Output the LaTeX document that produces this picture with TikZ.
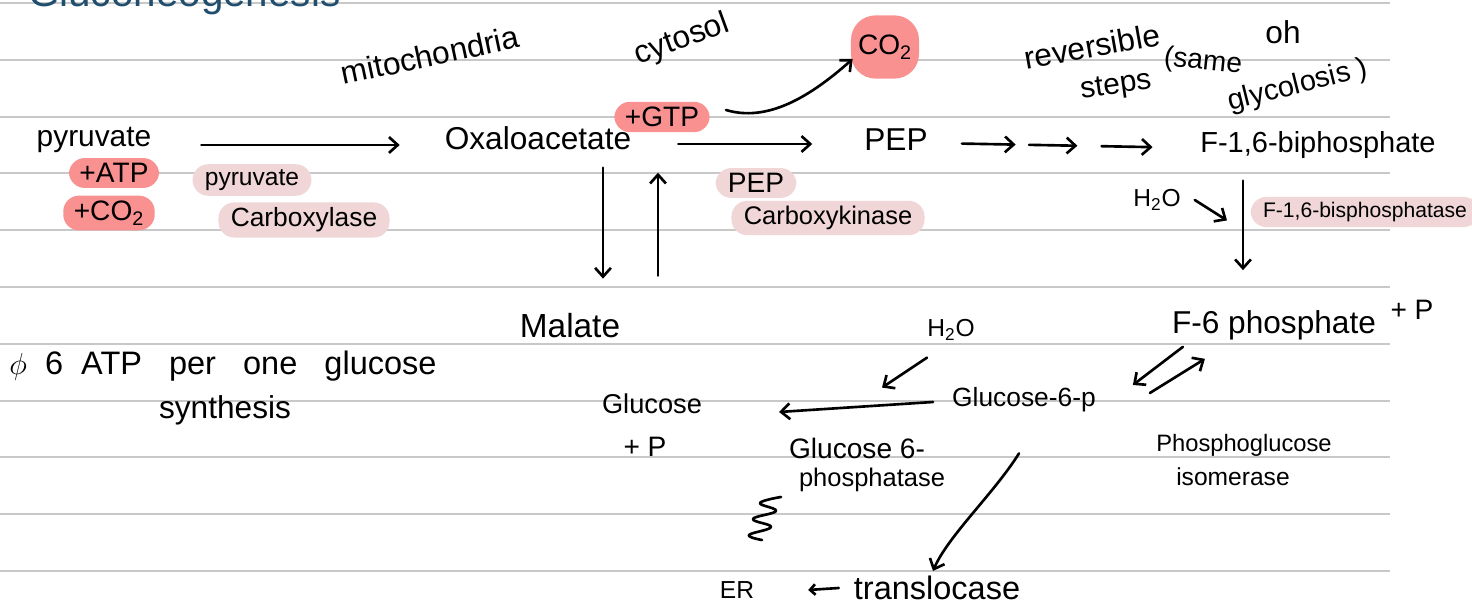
\documentclass[tikz,border=0pt]{standalone}
\usepackage{fontspec}
\setmainfont{Liberation Sans}
\usetikzlibrary{arrows.meta}
\usetikzlibrary{calc, math}
\definecolor{myblue}{RGB}{32,78,110}
\definecolor{myred}{RGB}{250,145,145}
\definecolor{mypink}{RGB}{240,214,214}
\definecolor{mygray}{RGB}{200,200,200}
\newcommand{\fsz}[1]{\fontsize{#1}{#1}\selectfont}

\begin{document}
\begin{tikzpicture}[x=0.02cm,y=-0.02cm,
pen/.style={line width=1.5pt, line cap=round, line join=round},
arr/.style={pen, -{Straight Barb[length=5pt,width=9pt]}},
arrsm/.style={pen, -{Straight Barb[length=3pt,width=6pt]}},
txt/.style={inner sep=1pt},
redhl/.style={fill=myred, rounded corners=9pt, inner xsep=6pt, inner ysep=3pt},
pinkhl/.style={fill=mypink, rounded corners=9pt, inner xsep=7pt, inner ysep=3pt}]
\tikzmath{
\W=1472; \H=614;
\dl=56.8;%line spacing
\lx=1390;
}
\clip (0,0) rectangle (\W,\H);
\fill[white] (0,0) rectangle (\W,\H);
%ruled paper
\foreach \k in {0,...,10}
  \draw[mygray, line width=1.1pt] (0,3+\k*\dl) -- (\lx,3+\k*\dl);

\node[txt, anchor=base west, text=myblue, font=\fsz{23}] (title) at (26,7) {Gluconeogenesis};
\node[txt, rotate=12, font=\fsz{18}] (mito) at (430,55) {mitochondria};
\node[txt, rotate=20, font=\fsz{18}] (cyto) at (682,40) {cytosol};
\node[redhl, inner xsep=4pt, minimum height=36pt, rounded corners=14pt, font=\fsz{16}] (co2) at (885,47) {CO\textsubscript{2}};
\node[redhl, font=\fsz{16}] (gtp) at (662,117) {+GTP};

%main row
\node[txt, font=\fsz{17}] (pyr) at (94,140) {pyruvate};
\node[txt, font=\fsz{18}] (oaa) at (538,138) {Oxaloacetate};
\node[txt, font=\fsz{18}] (pep) at (896,140) {PEP};
\node[txt, font=\fsz{16.5}] (fbp) at (1318,145) {F-1,6-biphosphate};

\node[redhl, font=\fsz{16}] (atp) at (114,173) {+ATP};
\node[redhl, font=\fsz{16}] (co2b) at (109,213) {+CO\textsubscript{2}};
\node[pinkhl, font=\fsz{14}] (pc1) at (252,180) {pyruvate};
\node[pinkhl, font=\fsz{15}] (pc2) at (304,220) {Carboxylase};
\node[pinkhl, font=\fsz{16}] (pk1) at (756,183) {PEP};
\node[pinkhl, font=\fsz{14.5}] (pk2) at (828,218) {Carboxykinase};

%reversible steps
\node[txt, rotate=10, font=\fsz{18}] (rev) at (1092,46) {reversible};
\node[txt, rotate=8, font=\fsz{17}] (steps) at (1116,87) {steps};
\node[txt, rotate=-6, font=\fsz{16}] (same) at (1203,62) {(same};
\node[txt, font=\fsz{18}] (oh) at (1283,32) {oh};
\node[txt, rotate=14, font=\fsz{16.5}] (glyc) at (1298,86) {glycolosis )};

\node[txt, font=\fsz{14}] (h2oa) at (1157,200) {H\textsubscript{2}O};
\node[pinkhl, font=\fsz{12}] (fbpase) at (1365,212) {F-1,6-bisphosphatase};

\node[txt, font=\fsz{19}] (mal) at (570,326) {Malate};
\node[txt, font=\fsz{18}] (f6p) at (1274,325) {F-6 phosphate};
\node[txt, font=\fsz{16}] (f6pp) at (1412,310) {+ P};
\node[txt, font=\fsz{14}] (h2ob) at (951,330) {H\textsubscript{2}O};
\node[txt, font=\fsz{15}] (g6p) at (1024,400) {Glucose-6-p};
\node[txt, font=\fsz{15.5}] (glc) at (652,404) {Glucose};
\node[txt, font=\fsz{16}] (glcp) at (645,447) {+ P};
\node[txt, font=\fsz{16}] (g6pase) at (857,448) {Glucose 6-};
\node[txt, font=\fsz{14.5}] (g6pase2) at (872,480) {phosphatase};
\node[txt, font=\fsz{13.5}] (pgi) at (1244,445) {Phosphoglucose};
\node[txt, font=\fsz{14}] (pgi2) at (1233,477) {isomerase};
\node[txt, font=\fsz{18.5}] (atpnote) at (223,366) {$\phi$\ \ 6\ \ ATP\ \ \ per\ \ \ one\ \ \ glucose};
\node[txt, font=\fsz{18}] (atpnote2) at (225,410) {synthesis};
\node[txt, font=\fsz{14}] (er) at (737,590) {ER};
\node[txt, font=\fsz{18.5}] (tran) at (937,588) {translocase};

%arrows
\draw[arr] ($(pyr.east)+(48,5)$) -- ($(oaa.west)+(-43,7)$);
\draw[arr] ($(oaa.east)+(45,6)$) -- ($(pep.west)+(-50,4)$);
\foreach \a/\b in {0.12/0.32, 0.37/0.55, 0.64/0.83}
  \draw[arr] ($(pep.east)!\a!(fbp.west)+(0,3)$) -- ($(pep.east)!\b!(fbp.west)+(0,3)$);
\draw[arr] ($(gtp.east)+(16,-7)$) .. controls +(40,12) and +(-45,40) .. ($(co2.west)+(2,12)$);
\draw[arr] ($(oaa.south)+(65,16)$) -- ($(mal.north)+(33,-33)$);
\draw[arr] ($(mal.north)+(88,-36)$) -- ($(oaa.south)+(120,21)$);
\draw[arr] ($(fbp.south)+(-75,20)$) -- coordinate[pos=0.4] (fbpmid) ($(f6p.north)+(-31,-38)$);
\draw[arr] ($(h2oa.east)+(12,0)$) -- ($(fbpmid)+(-16,4)$);
\draw[arr] ($(f6p.south west)+(13,5)$) -- ($(g6p.east)+(35,-15)$);
\draw[arr] ($(g6p.east)+(52,-7)$) -- ($(f6p.south west)+(35,17)$);
\draw[arr] ($(g6p.west)+(-17,2)$) -- ($(glc.east)+(75,8)$);
\draw[arr] ($(h2ob.south)+(-24,15)$) -- ($(h2ob.south)+(-69,45)$);
\draw[arr] ($(g6p.south)+(-5,39)$) .. controls +(-25,40) and +(15,-35) .. ($(tran.north)+(-4,-3)$);
\draw[arrsm] ($(tran.west)+(-13,0)$) -- ($(er.east)+(52,0)$);
%squiggle
\draw[pen] plot[smooth, tension=0.7] coordinates {(781,497) (760,503) (776,511) (753,519) (771,527) (749,535) (762,540)};
\end{tikzpicture}
\end{document}
